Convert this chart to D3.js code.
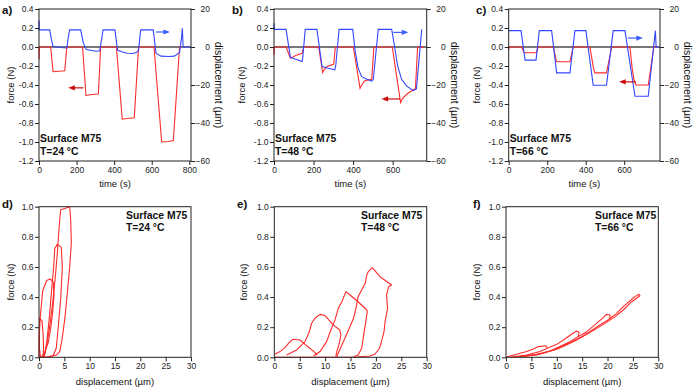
<!DOCTYPE html>
<html>
<head>
<meta charset="utf-8">
<script src="https://cdn.jsdelivr.net/npm/d3@7"></script>
<style>
body { margin: 0; background: #fff; }
svg { font-family: "Liberation Sans", Arial, sans-serif; }
</style>
</head>
<body>
<svg id="chart" width="694" height="388"></svg>
<script>
// ---- tick labels ----
var forceTicks = [-1.2, -1.0, -0.8, -0.6, -0.4, -0.2, 0.0, 0.2, 0.4];
var dispTicks = [-60, -40, -20, 0, 20];
var timeTicksA = [0, 200, 400, 600, 800];
var timeTicksBC = [0, 200, 400, 600];
var loopXTicks = [0, 5, 10, 15, 20, 25, 30];
var loopYTicks = [0.0, 0.2, 0.4, 0.6, 0.8, 1.0];

// ---- time series: [time (s), force (N)] and [time (s), displacement (um)] ----
var aForce = [[0,0],[0.5,-0.13],[1.5,0],[62,0],[75,-0.26],[105,-0.255],[137,-0.25],[148,0],
  [232,0],[250,-0.51],[285,-0.5],[316,-0.495],[328,0],[412,0],[443,-0.76],[480,-0.75],[507,-0.745],[530,0],
  [612,0],[653,-1.0],[690,-0.995],[715,-0.985],[748,0],[757,0]];
var aDisp = [[0,9],[0.5,14],[1.5,9],[57,9],[66,4],[75,0.3],[100,0],[130,-0.4],[148,-0.5],[156,5],[163,9],
  [222,9],[236,2],[252,-1.3],[280,-1.8],[305,-2.2],[323,-2],[333,4],[341,9],[404,9],[418,-1.6],[440,-2.5],
  [470,-3.3],[500,-3.4],[520,-2.8],[530,-1.6],[541,9],[608,9],[623,-3.4],[650,-4.8],[690,-5],[720,-4.8],
  [748,-3],[760,6],[763,9.8],[767,0],[809,0]];

var bForce = [[0,0],[0.5,-0.085],[1.5,0],[61,0],[83,-0.118],[110,-0.09],[142,-0.066],[150,0],
  [226,0],[246,-0.27],[255,-0.235],[268,-0.206],[302,-0.18],[310,0],[401,0],[435,-0.435],[448,-0.385],
  [460,-0.355],[494,-0.34],[505,0],[598,0],[640,-0.586],[650,-0.54],[672,-0.495],[704,-0.45],[715,-0.44],
  [726,0],[760,0]];
var bDisp = [[0,9.3],[0.5,12.5],[1.5,9.3],[61,9.3],[83,-5.4],[110,-6.5],[142,-7.7],[145,-6],[158,9.3],
  [217,9.3],[243,-10.3],[275,-11.2],[307,-12],[312,-10],[329,9.3],[398,9.3],[410,-2],[425,-11],[443,-15.6],
  [470,-17],[494,-17.9],[502,-17],[527,9.3],[595,9.3],[610,0],[625,-10],[645,-17],[670,-20.5],[704,-23],
  [720,-22],[747,9.3]];

var cForce = [[0,0],[0.5,-0.03],[1.5,0],[67,0],[80,-0.06],[142,-0.06],[154,0],[232,0],[249,-0.156],
  [318,-0.156],[335,0],[422,0],[432,-0.12],[440,-0.22],[448,-0.272],[508,-0.272],[535,0],[630,0],
  [640,-0.2],[650,-0.34],[661,-0.40],[725,-0.40],[754,0],[770,0]];
var cDisp = [[0,8.6],[64,8.6],[85,-6.9],[142,-6.9],[159,8.6],[223,8.6],[249,-13.6],[318,-13.6],[344,8.6],
  [401,8.6],[439,-20.1],[508,-20.1],[543,8.6],[604,8.6],[656,-25.9],[725,-25.9],[762,8.6],[766,0],[786,0]];

// ---- force vs displacement loops: [displacement (um), force (N)] ----
var dLoops = [
  [[0,0],[0.05,0.1],[0.1,0.2],[0.15,0.26],[0.4,0.25],[0.6,0.24],[0.8,0.16],[0.9,0.06],[0.8,0]],
  [[0.3,0],[0.05,0.07],[0.07,0.15],[0.2,0.25],[0.72,0.44],[1.5,0.51],[2.2,0.52],[2.8,0.5],[2.96,0.41],
   [2.7,0.3],[2.3,0.19],[1.84,0.1],[1.2,0.04],[0.5,0]],
  [[0.8,0],[1.2,0.03],[1.6,0.12],[2.0,0.25],[2.5,0.45],[2.9,0.6],[3.1,0.72],[3.6,0.75],[4.4,0.73],
   [4.6,0.6],[4.3,0.4],[3.8,0.2],[3.4,0.06],[2.8,0.01],[1.5,0]],
  [[1.0,0],[1.45,0.07],[2.1,0.2],[2.76,0.38],[3.22,0.535],[3.62,0.69],[3.88,0.82],[4.14,0.93],[4.28,0.98],
   [5.2,0.99],[6.06,1.0],[6.26,0.91],[6.38,0.76],[6.06,0.6],[5.59,0.425],[5.07,0.25],[4.54,0.115],
   [4.08,0.037],[3.42,0.015],[1.78,0.004],[0,0]]
];
var eLoops = [
  [[0.13,0.02],[1.12,0.038],[2.1,0.064],[3.09,0.104],[3.74,0.12],[5.05,0.115],[6.37,0.077],[8.0,0.033],[8.47,0.015]],
  [[2.43,0.015],[4.4,0.049],[6.04,0.104],[6.9,0.17],[7.35,0.226],[8.0,0.259],[9.0,0.285],[10.0,0.277],
   [11.6,0.215],[12.9,0.181],[13.1,0.148],[12.8,0.093],[12.3,0.038],[12.1,0.004]],
  [[7.7,0.009],[9.0,0.038],[10.3,0.104],[11.0,0.17],[11.95,0.248],[12.6,0.325],[13.3,0.369],[14.1,0.436],
   [14.9,0.414],[16.5,0.369],[18.2,0.314],[18.3,0.303],[17.9,0.215],[17.5,0.126],[17.2,0.06],[16.5,0.015],[15.6,0.004]],
  [[12.3,0.004],[13.3,0.082],[13.9,0.126],[14.6,0.181],[15.6,0.259],[16.2,0.347],[16.5,0.403],[17.2,0.447],
   [17.9,0.491],[18.2,0.546],[18.5,0.569],[19.3,0.595],[20.8,0.535],[23.1,0.48],[22.5,0.469],[22.1,0.414],
   [22.3,0.325],[21.8,0.237],[21.6,0.17],[21.1,0.104],[20.7,0.06],[19.8,0.02],[18.8,0.009],[16.2,0.002],[0.13,0]]
];
var fLoops = [
  [[0.1,0.002],[2.1,0.02],[4.07,0.038],[5.38,0.055],[6.37,0.071],[7.88,0.077],[8.14,0.06],[6.7,0.038],
   [4.07,0.015],[1.44,0.004]],
  [[8.14,0.06],[10.0,0.086],[11.6,0.122],[12.9,0.153],[13.9,0.175],[14.4,0.166],[14.2,0.137],[12.6,0.104],
   [10.6,0.071],[8.67,0.042],[6.04,0.02],[2.76,0.007]],
  [[14.2,0.137],[15.9,0.17],[17.5,0.215],[18.8,0.254],[19.8,0.285],[20.5,0.281],[20.4,0.254],[18.5,0.215],
   [16.5,0.17],[14.6,0.13],[11.9,0.086],[9.3,0.049],[6.04,0.015],[2.76,0.004]],
  [[20.35,0.254],[21.8,0.292],[23.1,0.336],[24.4,0.374],[25.4,0.403],[26.2,0.418],[26.4,0.409],[25.7,0.392],
   [24.4,0.358],[23.1,0.314],[21.5,0.27],[19.8,0.232],[17.9,0.192],[15.9,0.153],[13.9,0.115],[11.9,0.082],
   [10.0,0.053],[7.35,0.027],[4.07,0.009],[0.79,0]]
];

var RED = "#ff2b2b", BLUE = "#3446ff", RED_ARROW = "#cc0a0a", BLUE_ARROW = "#3a5cff";
var svg = d3.select("#chart");
var fmt1 = function(d) { return d.toFixed(1); };

var topY0 = 9, topY1 = 161;
var botY0 = 206.7, botY1 = 357.3;

function styleAxis(ax) {
    ax.select(".domain").remove();
    ax.selectAll("line").attr("stroke", "#222");
    ax.selectAll("text").attr("font-size", 8.5).attr("fill", "#222").attr("font-family", null);
}

function frame(g, x0, x1, y0, y1) {
    g.append("rect")
        .attr("x", x0).attr("y", y0)
        .attr("width", x1 - x0).attr("height", y1 - y0)
        .attr("fill", "none").attr("stroke", "#222").attr("stroke-width", 1);
}

function label(g, txt, x, y, opts) {
    opts = opts || {};
    var t = g.append("text").attr("x", x).attr("y", y).text(txt)
        .attr("font-size", opts.size || 9.5)
        .attr("font-weight", opts.bold ? "bold" : null)
        .attr("text-anchor", opts.anchor || "start")
        .attr("fill", "#111");
    if (opts.rotate) {
        t.attr("transform", "rotate(" + opts.rotate + "," + x + "," + y + ")")
         .attr("dominant-baseline", "central");
    }
    return t;
}

function arrow(g, x1, x2, y, color) {
    var dir = x2 > x1 ? 1 : -1;
    var hl = 6.5, hw = 2.6;
    g.append("line").attr("x1", x1).attr("x2", x2 - dir * hl + dir).attr("y1", y).attr("y2", y)
        .attr("stroke", color).attr("stroke-width", 1.2);
    g.append("path")
        .attr("d", "M" + x2 + "," + y + "L" + (x2 - dir * hl) + "," + (y - hw) + "L" + (x2 - dir * hl) + "," + (y + hw) + "Z")
        .attr("fill", color);
}

function drawTimePanel(cfg) {
    var g = svg.append("g");
    var x = d3.scaleLinear().domain([0, cfg.tMax]).range([cfg.x0, cfg.x1]);
    var yF = d3.scaleLinear().domain([-1.2, 0.4]).range([topY1, topY0]);
    var yD = d3.scaleLinear().domain([-60, 20]).range([topY1, topY0]);

    g.append("line").attr("x1", cfg.x0).attr("x2", cfg.x1)
        .attr("y1", yF(0)).attr("y2", yF(0))
        .attr("stroke", "#4a4a4a").attr("stroke-width", 1.3);

    g.append("path").datum(cfg.force)
        .attr("d", d3.line().x(function(d) { return x(d[0]); }).y(function(d) { return yF(d[1]); }))
        .attr("fill", "none").attr("stroke", RED).attr("stroke-width", 1.1);
    g.append("path").datum(cfg.disp)
        .attr("d", d3.line().x(function(d) { return x(d[0]); }).y(function(d) { return yD(d[1]); }))
        .attr("fill", "none").attr("stroke", BLUE).attr("stroke-width", 1.1);

    arrow(g, x(cfg.blueArrow[0]), x(cfg.blueArrow[1]), yD(cfg.blueArrow[2]), BLUE_ARROW);
    arrow(g, x(cfg.redArrow[0]), x(cfg.redArrow[1]), yF(cfg.redArrow[2]), RED_ARROW);

    frame(g, cfg.x0, cfg.x1, topY0, topY1);

    var axL = g.append("g").attr("transform", "translate(" + cfg.x0 + ",0)")
        .call(d3.axisLeft(yF).tickValues(forceTicks).tickFormat(fmt1).tickSize(4).tickPadding(1.5));
    styleAxis(axL);
    var axR = g.append("g").attr("transform", "translate(" + cfg.x1 + ",0)")
        .call(d3.axisRight(yD).tickValues(dispTicks).tickFormat(d3.format("d")).tickSize(4));
    styleAxis(axR);
    axR.selectAll("text").attr("text-anchor", "end").attr("x", 19);
    var axB = g.append("g").attr("transform", "translate(0," + topY1 + ")")
        .call(d3.axisBottom(x).tickValues(cfg.tTicks).tickFormat(d3.format("d")).tickSize(4).tickPadding(2));
    styleAxis(axB);

    label(g, cfg.tag, cfg.tagX, 13.5, { bold: true, size: 11.5 });
    label(g, "force (N)", cfg.forceLabelX, 85, { rotate: -90, anchor: "middle" });
    label(g, "displacement (\u00b5m)", cfg.x1 + 28, 85, { rotate: 90, anchor: "middle", size: 10.5 });
    label(g, "time (s)", (cfg.x0 + cfg.x1) / 2, 187, { anchor: "middle" });
    label(g, "Surface M75", cfg.x0 + 1, 142, { bold: true, size: 10.4 });
    label(g, cfg.temp, cfg.x0 + 1, 154.5, { bold: true, size: 10.4 });
}

function drawLoopPanel(cfg) {
    var g = svg.append("g");
    var x = d3.scaleLinear().domain([0, 30]).range([cfg.x0, cfg.x1]);
    var y = d3.scaleLinear().domain([0, 1]).range([botY1, botY0]);
    var line = d3.line().x(function(d) { return x(d[0]); }).y(function(d) { return y(d[1]); });

    g.selectAll(".loop").data(cfg.loops).enter().append("path")
        .attr("class", "loop")
        .attr("d", line)
        .attr("fill", "none").attr("stroke", RED).attr("stroke-width", 1.1)
        .attr("stroke-linejoin", "round");

    frame(g, cfg.x0, cfg.x1, botY0, botY1);

    var axL = g.append("g").attr("transform", "translate(" + cfg.x0 + ",0)")
        .call(d3.axisLeft(y).tickValues(loopYTicks).tickFormat(fmt1).tickSize(4).tickPadding(1.5));
    styleAxis(axL);
    var axB = g.append("g").attr("transform", "translate(0," + botY1 + ")")
        .call(d3.axisBottom(x).tickValues(loopXTicks).tickFormat(d3.format("d")).tickSize(4).tickPadding(2));
    styleAxis(axB);

    label(g, cfg.tag, cfg.tagX, 208, { bold: true, size: 11.5 });
    label(g, "force (N)", cfg.forceLabelX, 282, { rotate: -90, anchor: "middle" });
    label(g, "displacement (\u00b5m)", (cfg.x0 + cfg.x1) / 2, 385, { anchor: "middle" });
    label(g, "Surface M75", cfg.textX, 219, { bold: true, size: 10.4 });
    label(g, cfg.temp, cfg.textX, 231, { bold: true, size: 10.4 });
}

drawTimePanel({ tag: "a)", tagX: 2, x0: 39, x1: 191, tMax: 809, tTicks: timeTicksA,
    force: aForce, disp: aDisp, blueArrow: [622, 697, 7.9], redArrow: [236, 156, -0.43],
    forceLabelX: 10, temp: "T=24 \u00b0C" });
drawTimePanel({ tag: "b)", tagX: 232, x0: 274, x1: 426.7, tMax: 772, tTicks: timeTicksBC,
    force: bForce, disp: bDisp, blueArrow: [603, 679, 7.7], redArrow: [637, 544, -0.547],
    forceLabelX: 241.5, temp: "T=48 \u00b0C" });
drawTimePanel({ tag: "c)", tagX: 476, x0: 508.7, x1: 660, tMax: 786, tTicks: timeTicksBC,
    force: cForce, disp: cDisp, blueArrow: [619, 697, 4.7], redArrow: [661, 574, -0.367],
    forceLabelX: 476, temp: "T=66 \u00b0C" });

drawLoopPanel({ tag: "d)", tagX: 2, x0: 39, x1: 191, loops: dLoops, forceLabelX: 10.5,
    textX: 126, temp: "T=24 \u00b0C" });
drawLoopPanel({ tag: "e)", tagX: 237, x0: 274.3, x1: 426.7, loops: eLoops, forceLabelX: 243.5,
    textX: 361, temp: "T=48 \u00b0C" });
drawLoopPanel({ tag: "f)", tagX: 473, x0: 506, x1: 658.3, loops: fLoops, forceLabelX: 476,
    textX: 595, temp: "T=66 \u00b0C" });
</script>
</body>
</html>
